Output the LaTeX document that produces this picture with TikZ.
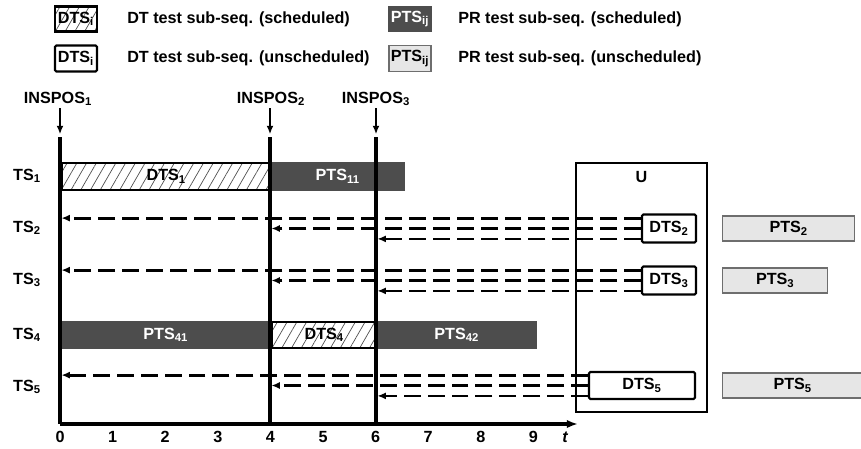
\documentclass[tikz,border=0pt]{standalone}
\usepackage{fontspec}
\setmainfont{Liberation Sans}
\usetikzlibrary{arrows.meta,positioning,patterns.meta}
\definecolor{ptsdark}{HTML}{4D4D4D}
\definecolor{ptslight}{HTML}{E6E6E6}
\definecolor{ptsedge}{HTML}{6E6E6E}
\definecolor{hatchink}{HTML}{505050}

\begin{document}
\begin{tikzpicture}[
    x=0.025cm, y=-0.025cm,
    font=\bfseries\fontsize{11.5pt}{14pt}\selectfont,
    >=Latex,
    dtsbar/.style={
        draw=black,
        line width=1.8pt,
        inner sep=0pt,
        pattern={Lines[angle=60,distance=6pt,line width=0.5pt]},
        pattern color=hatchink
    },
    ptsbar/.style={
        draw=ptsdark,
        fill=ptsdark,
        line width=1pt,
        inner sep=0pt,
        text=white
    },
    dtsbox/.style={
        draw=black,
        fill=white,
        line width=1.5pt,
        rounded corners=1pt,
        inner sep=0pt
    },
    ptsfree/.style={
        draw=ptsedge,
        fill=ptslight,
        line width=1pt,
        inner sep=0pt
    },
    ubox/.style={
        draw=black,
        line width=1.6pt,
        inner sep=0pt
    },
    plain/.style={
        inner sep=0pt
    },
    timeline/.style={
        draw=black,
        line width=2.2pt
    },
    posarrow/.style={
        -{Latex[length=6pt,width=5pt]},
        line width=1.1pt,
        shorten <=1.5pt
    },
    dasharrow/.style={
        -{Latex[length=6pt,width=5pt]},
        line width=2pt,
        dash pattern=on 12pt off 5pt,
        shorten >=1pt
    }
]

\useasboundingbox (0,0) rectangle (861,448);

% legend
\node[dtsbar, minimum width=1.05cm, minimum height=0.625cm] (keydts) at (76,19) {DTS\textsubscript{i}};
\node[plain, anchor=west] (keydtstext) at (127,19) {DT test sub-seq. (scheduled)};
\node[dtsbox, minimum width=1.05cm, minimum height=0.65cm] (keyfree) at (76,58.5) {DTS\textsubscript{i}};
\node[plain, anchor=west] (keyfreetext) at (127,58.5) {DT test sub-seq. (unscheduled)};
\node[ptsbar, minimum width=1.05cm, minimum height=0.625cm] (keypts) at (410,19) {PTS\textsubscript{ij}};
\node[plain, anchor=west] (keyptstext) at (458,19) {PR test sub-seq. (scheduled)};
\node[ptsfree, minimum width=1.05cm, minimum height=0.65cm] (keyptsfree) at (410,58.5) {PTS\textsubscript{ij}};
\node[plain, anchor=west] (keyptsfreetext) at (458,58.5) {PR test sub-seq. (unscheduled)};

% time lines
\foreach \n/\x in {0/60,4/270,6/376} {
    \coordinate (top\n) at (\x,137);
    \coordinate (bot\n) at (\x,424);
}
\coordinate (axisend) at (578,424);

\node[plain] (ins1) at (58,99) {INSPOS\textsubscript{1}};
\node[plain] (ins2) at (271,99) {INSPOS\textsubscript{2}};
\node[plain] (ins3) at (376,99) {INSPOS\textsubscript{3}};

\foreach \r/\y in {1/176,2/228,3/280,4/335,5/387}
    \node[plain] (ts\r) at (27,\y) {TS\textsubscript{\r}};

% scheduled bars
\node[dtsbar, minimum width=5.25cm, minimum height=0.675cm, anchor=west] (dts1) at (60,176.5) {DTS\textsubscript{1}};
\node[ptsbar, minimum width=3.35cm, minimum height=0.675cm, anchor=west] (pts11) at (270,176.5) {PTS\textsubscript{11}};
\node[ptsbar, minimum width=5.25cm, minimum height=0.65cm, anchor=west] (pts41) at (60,335) {PTS\textsubscript{41}};
\node[dtsbar, minimum width=2.65cm, minimum height=0.65cm, anchor=west] (dts4) at (270,335) {DTS\textsubscript{4}};
\node[ptsbar, minimum width=4cm, minimum height=0.65cm, anchor=west] (pts42) at (376,335) {PTS\textsubscript{42}};

% unscheduled
\node[dtsbox, minimum width=1.35cm, minimum height=0.7cm] (dts2) at (669,228.5) {DTS\textsubscript{2}};
\node[dtsbox, minimum width=1.35cm, minimum height=0.7cm] (dts3) at (669,280.5) {DTS\textsubscript{3}};
\node[dtsbox, minimum width=2.65cm, minimum height=0.675cm] (dts5) at (642,385.5) {DTS\textsubscript{5}};

\node[ptsfree, minimum width=3.3cm, minimum height=0.625cm, anchor=west] (pts2) at (722,228.5) {PTS\textsubscript{2}};
\node[ptsfree, minimum width=2.625cm, minimum height=0.625cm, anchor=west] (pts3) at (722,280.5) {PTS\textsubscript{3}};
\node[ptsfree, minimum width=3.5cm, minimum height=0.625cm, anchor=west] (pts5) at (722,385.5) {PTS\textsubscript{5}};

\foreach \b in {dts2,dts3,dts5} {
    \draw[dasharrow] ([yshift=0.26cm]\b.west) coordinate (s) -- (s -| top0);
    \draw[dasharrow] (\b.west) coordinate (s) -- (s -| top4);
    \draw[dasharrow] ([yshift=-0.26cm]\b.west) coordinate (s) -- (s -| top6);
}

\foreach \n in {0,4,6}
    \draw[timeline] (top\n) -- (bot\n);
\draw[timeline, -{Latex[length=8pt,width=6pt]}] (bot0) -- (axisend);

\draw[posarrow] (ins1.south -| top0) -- ([yshift=2pt]top0);
\draw[posarrow] (ins2.south -| top4) -- ([yshift=2pt]top4);
\draw[posarrow] (ins3.south -| top6) -- ([yshift=2pt]top6);

\node[ubox, minimum width=3.275cm, minimum height=6.225cm] (ubox) at (641.5,287.5) {};
\node[plain, below=2.2mm of ubox.north] (ulabel) {U};

\foreach \k in {0,...,9}
    \node[plain] (tick\k) at (60+52.6*\k,437) {\k};
\node[plain] (tickt) at (565,437) {\itshape t};

\end{tikzpicture}
\end{document}
